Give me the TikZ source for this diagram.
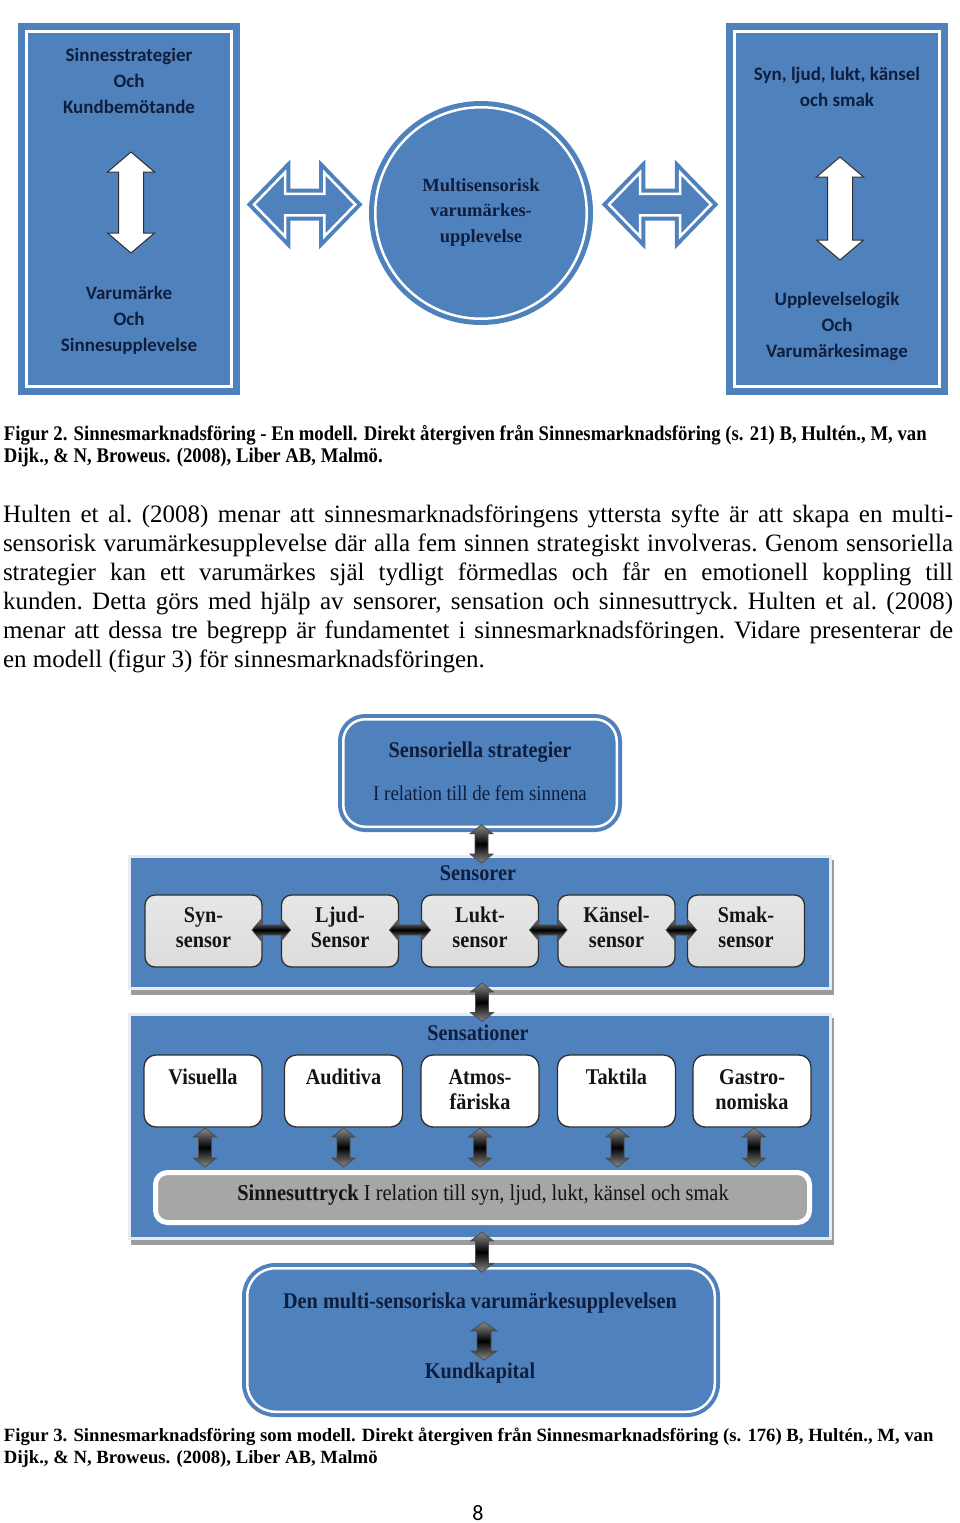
\documentclass[tikz,border=0pt]{standalone}
\usepackage{fontspec}
\setmainfont{Liberation Serif}
\newfontfamily\carlito{Carlito}
\newfontfamily\figfont[FakeStretch=0.9]{Liberation Serif}
\usetikzlibrary{calc}
\definecolor{fblue}{HTML}{4F81BD}
\definecolor{navy}{HTML}{0F1E3C}
\definecolor{sgray}{HTML}{DCDCDC}
\definecolor{bgray}{HTML}{A6A6A6}
\definecolor{edge}{HTML}{2E2E2E}
\definecolor{dgray}{HTML}{8A8A8A}
\definecolor{shad}{HTML}{9C9C9C}
\definecolor{pedge}{HTML}{E6ECF4}
\definecolor{ink}{HTML}{141414}
% horizontal double block arrow: style, left tip, right tip, head length, head half, shaft half
\newcommand\hdbl[6]{\path[#1] let \p1=#2, \p2=#3, \n1={\x2-\x1-2*#4pt} in
  (\x1,\y1) -- ++(#4,-#5) -- ++(0,#5-#6) -- ++(\n1,0) -- ++(0,#6-#5) -- ++(#4,#5)
  -- ++(-#4,#5) -- ++(0,#6-#5) -- ++(-\n1,0) -- ++(0,#5-#6) -- cycle;}
% vertical double block arrow: style, top tip, bottom tip, head length, head half, shaft half
% (\n1 carries pt, so it acts in canvas units: negative = downwards)
\newcommand\vdbl[6]{\path[#1] let \p1=#2, \p2=#3, \n1={\y1-\y2-2*#4pt} in
  (\x1,\y1) -- ++(#5,#4) -- ++(#6-#5,0) -- ++(0,-\n1) -- ++(#5-#6,0) -- ++(-#5,#4)
  -- ++(-#5,-#4) -- ++(#5-#6,0) -- ++(0,\n1) -- ++(#6-#5,0) -- cycle;}
\newcommand\jl[1]{\hbox to \hsize{#1}}
\begin{document}
\begin{tikzpicture}[x=1pt,y=-1pt,
  every node/.style={outer sep=0pt},
  lbl/.style={font=\carlito\bfseries\fontsize{19}{26}\selectfont, text=navy, align=center, inner sep=0},
  bigbox/.style={rectangle, fill=fblue, draw=fblue, line width=7pt, double=white, double distance=3pt, inner sep=0},
  barrow/.style={fill=fblue, draw=fblue, line width=4pt, double=white, double distance=2.5pt},
  warr/.style={fill=white, draw=edge, line width=1pt},
  darkv/.style={top color=dgray, bottom color=dgray, middle color=black, draw=black!70, line width=0.8pt},
  darkh/.style={top color=dgray, bottom color=dgray, middle color=black, draw=black!70, line width=0.8pt},
  rbox/.style={rectangle, fill=fblue, draw=fblue, line width=4pt, double=white, double distance=2.5pt, inner sep=0},
  panel/.style={rectangle, fill=fblue, draw=pedge, line width=3pt, inner sep=0, minimum width=701, },
  sbox/.style={rectangle, rounded corners=10pt, top color=sgray!70, bottom color=sgray, draw=edge, line width=1.3pt, minimum width=117, minimum height=72, inner sep=0},
  wbox/.style={rectangle, rounded corners=12pt, fill=white, draw=edge, line width=1.3pt, minimum width=118, minimum height=72, inner sep=0},
  fb/.style={font=\figfont\bfseries\fontsize{22.5}{25}\selectfont, text=navy, align=center, inner sep=0},
  fr/.style={font=\figfont\fontsize{21}{25}\selectfont, text=navy, align=center, inner sep=0},
  ft/.style={font=\figfont\bfseries\fontsize{22.5}{25}\selectfont, text=ink, align=center, inner sep=0},
  capt/.style={font=\bfseries\fontsize{18.7}{22}\selectfont, anchor=base west, inner sep=0},
  captn/.style={font=\figfont\bfseries\fontsize{20.8}{22}\selectfont, anchor=base west, inner sep=0}
]
\useasboundingbox (0,0) rectangle (960,1523);
\fill[white] (0,0) rectangle (960,1523);

% ---------- Figure 2 ----------
\node[bigbox, minimum width=205, minimum height=355] (lbox) at (129,209) {};
\node[bigbox, minimum width=205, minimum height=355] (rbox) at (837,209) {};
\node[circle, fill=fblue, draw=fblue, line width=5pt, double=white, double distance=2.5pt, minimum size=211.5, inner sep=0] (circ) at (481,213) {};

\node[lbl] (lt) at (129,81) {Sinnesstrategier\\Och\\Kundbemötande};
\node[lbl] (lb) at (129,320.5) {Varumärke\\Och\\Sinnesupplevelse};
\node[lbl] (rt) at (837,86.5) {Syn, ljud, lukt, känsel\\och smak};
\node[lbl] (rb) at (837,326.5) {Upplevelselogik\\Och\\Varumärkesimage};
\node[font=\bfseries\fontsize{18.5}{25.5}\selectfont, text=navy, align=center, inner sep=0] (ct) at (481,212.5) {Multisensorisk\\varumärkes-\\upplevelse};

\coordinate (lw1) at (131,152);
\coordinate (lw2) at (131,253);
\coordinate (rw1) at (840,157);
\coordinate (rw2) at (840,260);
\vdbl{warr}{(lw1)}{(lw2)}{20}{23.5}{12.5}
\vdbl{warr}{(rw1)}{(rw2)}{20}{23.5}{12.5}

\coordinate (la1) at ($(lbox.east)+(22.5,-4.5)$);
\coordinate (la2) at ($(circ.west)+(-20,-8.5)$);
\coordinate (ra1) at ($(circ.east)+(22.25,-8.5)$);
\coordinate (ra2) at ($(rbox.west)+(-23.5,-4.5)$);
\hdbl{barrow}{(la1)}{(la2)}{31}{32}{10.75}
\hdbl{barrow}{(ra1)}{(ra2)}{31}{32}{10.75}

% ---------- Caption 2 and text ----------
\node[captn] (c2a) at (4,440) {Figur 2. Sinnesmarknadsföring - En modell. Direkt återgiven från Sinnesmarknadsföring (s. 21) B, Hultén., M, van};
\node[captn] (c2b) at (4,462) {Dijk., \& N, Broweus. (2008), Liber AB, Malmö.};

\node[anchor=base west, inner sep=0, font=\fontsize{25}{29}\selectfont] (para) at (3,522) {\frenchspacing\vtop{\hsize=950pt \baselineskip=29pt \lineskiplimit=-20pt
\jl{Hulten et al. (2008) menar att sinnesmarknadsföringens yttersta syfte är att skapa en multi-}
\jl{sensorisk varumärkesupplevelse där alla fem sinnen strategiskt involveras. Genom sensoriella}
\jl{strategier kan ett varumärkes själ tydligt förmedlas och får en emotionell koppling till}
\jl{kunden. Detta görs med hjälp av sensorer, sensation och sinnesuttryck. Hulten et al. (2008)}
\jl{menar att dessa tre begrepp är fundamentet i sinnesmarknadsföringen. Vidare presenterar de}
\hbox{en modell (figur 3) för sinnesmarknadsföringen.}}};

% ---------- Figure 3 ----------
\node[rbox, rounded corners=22pt, minimum width=273.5, minimum height=107.5] (topbox) at (480,773) {};
\node[fb] (tb1) at (480,752) {Sensoriella strategier};
\node[fr] (tb2) at (480,793) {I relation till de fem sinnena};

\fill[shad] (131,860) rectangle (834,995);
\node[panel, minimum height=132] (sensp) at (480,922.5) {};
\node[fb] (sensl) at (478,873) {Sensorer};

\node[sbox] (sb1) at (203.5,931) {};
\node[sbox] (sb2) at (340,931) {};
\node[sbox] (sb3) at (480,931) {};
\node[sbox] (sb4) at (616.5,931) {};
\node[sbox] (sb5) at (746,931) {};
\node[ft] (st1) at (203.5,927.5) {Syn-\\sensor};
\node[ft] (st2) at (340,927.5) {Ljud-\\Sensor};
\node[ft] (st3) at (480,927.5) {Lukt-\\sensor};
\node[ft] (st4) at (616.5,927.5) {Känsel-\\sensor};
\node[ft] (st5) at (746,927.5) {Smak-\\sensor};
\hdbl{darkh}{($(sb1.east)+(-10,-1)$)}{($(sb2.west)+(9,-1)$)}{9}{10.5}{5}
\hdbl{darkh}{($(sb2.east)+(-9,-1)$)}{($(sb3.west)+(9,-1)$)}{9}{10.5}{5}
\hdbl{darkh}{($(sb3.east)+(-9,-1)$)}{($(sb4.west)+(9,-1)$)}{9}{10.5}{5}
\hdbl{darkh}{($(sb4.east)+(-9,-1)$)}{($(sb5.west)+(9,-1)$)}{9}{10.5}{5}

\fill[shad] (131,1018) rectangle (834,1245);
\node[panel, minimum height=224] (sensap) at (480,1126.5) {};
\node[fb] (sensal) at (478,1033) {Sensationer};

\node[wbox] (sa1) at (203,1091) {};
\node[wbox] (sa2) at (343.5,1091) {};
\node[wbox] (sa3) at (480,1091) {};
\node[wbox] (sa4) at (616.5,1091) {};
\node[wbox] (sa5) at (752,1091) {};
\node[ft] (at1) at (203,1077) {Visuella};
\node[ft] (at2) at (343.5,1077) {Auditiva};
\node[ft] (at3) at (480,1089.5) {Atmos-\\färiska};
\node[ft] (at4) at (616.5,1077) {Taktila};
\node[ft] (at5) at (752,1089.5) {Gastro-\\nomiska};

\node[rectangle, rounded corners=12pt, fill=bgray, draw=white, line width=5pt, minimum width=654, minimum height=50, inner sep=0] (bar) at (482.5,1197.5) {};
\node[font=\figfont\fontsize{22.7}{25}\selectfont, text=ink, inner sep=0] (bart) at (483,1195) {\textbf{Sinnesuttryck} I relation till syn, ljud, lukt, känsel och smak};

\vdbl{darkv}{($(sa1.south)+(2,1)$)}{($(bar.north)+(0,-5.5)$)}{9}{11.5}{6.5}
\vdbl{darkv}{($(sa2.south)+(0,1)$)}{($(bar.north)+(0,-5.5)$)}{9}{11.5}{6.5}
\vdbl{darkv}{($(sa3.south)+(0,1)$)}{($(bar.north)+(0,-5.5)$)}{9}{11.5}{6.5}
\vdbl{darkv}{($(sa4.south)+(1,1)$)}{($(bar.north)+(0,-5.5)$)}{9}{11.5}{6.5}
\vdbl{darkv}{($(sa5.south)+(2,1)$)}{($(bar.north)+(0,-5.5)$)}{9}{11.5}{6.5}

\node[rbox, rounded corners=28pt, minimum width=467.5, minimum height=143.5] (botbox) at (481,1340) {};
\node[fb] (bt1) at (480,1303) {Den multi-sensoriska varumärkesupplevelsen};
\node[fb] (bt2) at (480,1373) {Kundkapital};
\coordinate (ia1) at (484,1322);
\coordinate (ia2) at (484,1360);
\vdbl{darkv}{(ia1)}{(ia2)}{9}{13}{7}

\vdbl{darkv}{($(topbox.south)+(1.5,-2)$)}{($(sensp.north)+(0,6.5)$)}{9}{11.5}{6.5}
\vdbl{darkv}{($(sensp.south)+(2,-5.5)$)}{($(sensap.north)+(0,7)$)}{9}{11.5}{6.5}
\vdbl{darkv}{($(sensap.south)+(2,-6.5)$)}{($(botbox.north)+(0,4)$)}{9}{11.5}{6.5}

% ---------- Caption 3 and page number ----------
\node[capt] (c3a) at (4,1441) {Figur 3. Sinnesmarknadsföring som modell. Direkt återgiven från Sinnesmarknadsföring (s. 176) B, Hultén., M, van};
\node[capt] (c3b) at (4,1463) {Dijk., \& N, Broweus. (2008), Liber AB, Malmö};
\node[font=\carlito\fontsize{22}{26}\selectfont, inner sep=0] (pg) at (478,1513) {8};
\end{tikzpicture}
\end{document}
